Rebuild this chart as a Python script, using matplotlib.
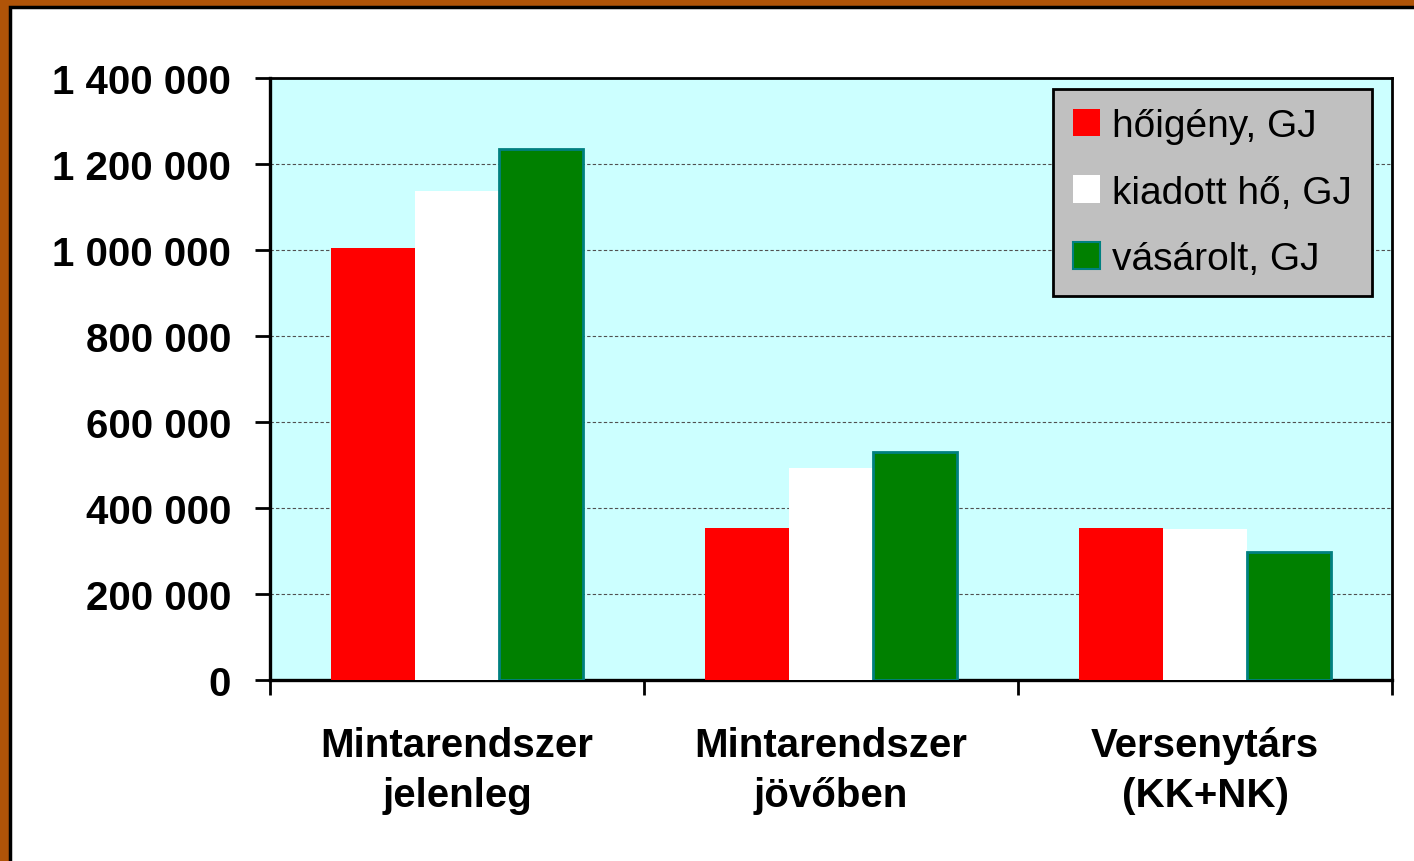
import numpy as np
import matplotlib.pyplot as plt
from matplotlib.patches import Rectangle, Patch
from matplotlib.ticker import FuncFormatter, FixedLocator

plt.rcParams['font.family'] = ['Liberation Sans', 'DejaVu Sans']

# Data
categories = ['Mintarendszer\njelenleg', 'Mintarendszer\njövőben', 'Versenytárs\n(KK+NK)']
series_names = ['hőigény, GJ', 'kiadott hő, GJ', 'vásárolt, GJ']
hoigeny = [1005000, 353000, 353000]
kiadott = [1138000, 492000, 352000]
vasarolt = [1236000, 530000, 297000]

colors = ['#FF0000', '#FFFFFF', '#008000']
edges = ['#FF0000', '#FFFFFF', '#008080']

fig = plt.figure(figsize=(14.14, 8.62), dpi=100)
fig.patch.set_facecolor('#B05408')

# white slide panel with black border (only top/left visible)
panel = Rectangle((9.5 / 1414, -0.05), 1.2, (862 - 7.5) / 862 + 0.05,
                  transform=fig.transFigure, facecolor='white',
                  edgecolor='black', linewidth=2.5, zorder=-10)
fig.patches.append(panel)

ax = fig.add_axes([270 / 1414, (862 - 681) / 862, 1122 / 1414, 602 / 862])
ax.set_facecolor('#CCFFFF')

x = np.arange(len(categories))
w = 0.225
for i, (vals, name) in enumerate(zip([hoigeny, kiadott, vasarolt], series_names)):
    lw = 2.0 if i == 2 else 0
    ax.bar(x + (i - 1) * w, vals, width=w, color=colors[i], edgecolor=edges[i],
           linewidth=lw, label=name, zorder=3)

ax.set_xlim(-0.5, 2.5)
ax.set_ylim(0, 1400000)
ax.set_yticks(np.arange(0, 1400001, 200000))
ax.yaxis.set_major_formatter(FuncFormatter(lambda v, p: f'{v:,.0f}'.replace(',', ' ')))
ax.yaxis.grid(True, color='#505050', linestyle=(0, (3, 2)), linewidth=0.8)
ax.set_axisbelow(True)

ax.set_xticks(x)
ax.set_xticklabels(categories)
ax.xaxis.set_minor_locator(FixedLocator([-0.5, 0.5, 1.5, 2.5]))
ax.tick_params(axis='x', which='major', length=0, pad=33, labelsize=29)
ax.tick_params(axis='x', which='minor', length=11, width=2, direction='out')
ax.tick_params(axis='y', length=11, width=2, direction='out', pad=17, labelsize=29)
for lbl in ax.get_xticklabels() + ax.get_yticklabels():
    lbl.set_fontweight('bold')
for lbl in ax.get_xticklabels():
    lbl.set_linespacing(1.4)

for side in ['left', 'bottom']:
    ax.spines[side].set_linewidth(2.4)
for side in ['top', 'right']:
    ax.spines[side].set_linewidth(2.0)

handles = [Patch(facecolor=colors[i], edgecolor=edges[i], linewidth=1.5 if i == 2 else 0)
           for i in range(3)]
leg = ax.legend(handles, series_names, loc='upper right', bbox_to_anchor=(0.982, 0.982),
                borderaxespad=0, fancybox=False, framealpha=1, facecolor='#C0C0C0',
                edgecolor='black', fontsize=28, handlelength=0.7, handleheight=0.7,
                handletextpad=0.32, labelspacing=0.78, borderpad=0.5)
leg.get_frame().set_linewidth(2)

plt.savefig('out.png', dpi=100, facecolor=fig.get_facecolor())
